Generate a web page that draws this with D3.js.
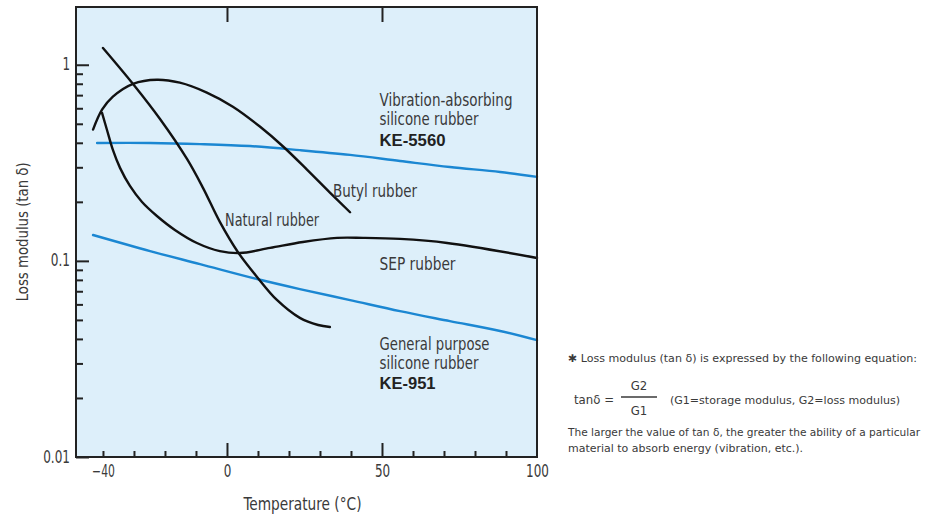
<!DOCTYPE html>
<html><head><meta charset="utf-8">
<script src="https://cdn.jsdelivr.net/npm/d3@7/dist/d3.min.js"></script>
<style>
html,body{margin:0;padding:0;background:#fff;}
svg{display:block;}
.narrow{font-family:'Liberation Sans Narrow','Arial Narrow','DejaVu Sans Condensed',sans-serif;}
.boldf{font-family:'Liberation Sans',Arial,sans-serif;font-weight:bold;}
</style></head>
<body>
<svg id="chart" width="939" height="520"></svg>
<script>
// ---- data ----
const xTickLabels = [-40, 0, 50, 100];
const xMinorTicks = [-40, -30, -20, -10, 10, 20, 30, 40, 60, 70, 80, 90];
const xMajorTicks = [0, 50];
const yTickLabels = [0.01, 0.1, 1];
const yMinorTicks = [0.02,0.03,0.04,0.05,0.06,0.07,0.08,0.09,0.2,0.3,0.4,0.5,0.6,0.7,0.8,0.9];

const tempKE5560 = [-41.9, -24.8, -8.7, 7.4, 23.5, 39.7, 55.8, 71.9, 88.1, 100];
const valKE5560  = [0.399, 0.399, 0.394, 0.385, 0.367, 0.347, 0.323, 0.301, 0.284, 0.268];

const tempKE951 = [-43.2, -24.8, -8.7, 9.7, 23.5, 39.7, 55.8, 71.9, 88.1, 100];
const valKE951  = [0.1355, 0.1122, 0.0963, 0.0808, 0.0718, 0.0631, 0.0554, 0.0493, 0.0439, 0.0394];

const tempButyl = [-43.2, -40.3, -36.8, -30.3, -22.6, -15.2, -6.5, 1.9, 10.6, 18.1, 25.8, 33.2, 39.7];
const valButyl  = [0.467, 0.590, 0.688, 0.80, 0.839, 0.81, 0.721, 0.611, 0.484, 0.383, 0.292, 0.223, 0.177];

const tempNatural = [-40, -30.3, -21.6, -12.9, -7.7, -2.3, 3.5, 9.7, 16.1, 23.5, 29.4, 33.2];
const valNatural  = [1.218, 0.798, 0.529, 0.331, 0.235, 0.158, 0.111, 0.0828, 0.0632, 0.0512, 0.0471, 0.046];

const tempSEP = [-40.3, -38.7, -36.8, -34.5, -31.3, -27.4, -22.6, -16.8, -9.7, -2.3, 4.2, 13.9, 24.5, 35.5, 43.9, 55.8, 71, 100];
const valSEP  = [0.568, 0.465, 0.368, 0.298, 0.241, 0.1996, 0.1694, 0.1438, 0.1234, 0.1122, 0.1096, 0.1164, 0.1248, 0.131, 0.131, 0.1294, 0.1234, 0.1035];

const seriesNames = ["KE-5560", "KE-951", "Butyl rubber", "Natural rubber", "SEP rubber"];

// ---- chart ----
const svg = d3.select("#chart");
const x = d3.scaleLinear().domain([-48.7, 100]).range([76, 537]);
const y = d3.scaleLog().domain([0.01, 1.97]).range([457, 7]);
const [x0, x1] = x.range();
const [yb, yt] = y.range();

const BLUE = "#1b87d2", BLACK = "#111", TXT = "#3a3a3a";

svg.append("rect").attr("x", x0).attr("y", yt).attr("width", x1 - x0).attr("height", yb - yt)
  .attr("fill", "#ddeffa");

const zip = (a, b) => a.map((t, i) => [t, b[i]]);
const series = [
  {name: seriesNames[0], data: zip(tempKE5560, valKE5560), color: BLUE},
  {name: seriesNames[1], data: zip(tempKE951, valKE951), color: BLUE},
  {name: seriesNames[2], data: zip(tempButyl, valButyl), color: BLACK},
  {name: seriesNames[3], data: zip(tempNatural, valNatural), color: BLACK},
  {name: seriesNames[4], data: zip(tempSEP, valSEP), color: BLACK}
];
const line = d3.line().x(d => x(d[0])).y(d => y(d[1])).curve(d3.curveCatmullRom.alpha(0.5));
svg.append("g").selectAll("path").data(series).join("path")
  .attr("d", d => line(d.data)).attr("fill", "none")
  .attr("stroke", d => d.color).attr("stroke-width", 2.4).attr("stroke-linecap", "round");

// axes
function styleAxis(g) {
  g.select(".domain").remove();
  g.selectAll(".tick line").attr("stroke", "#222").attr("stroke-width", 2);
}
const labelWidth = s => Array.from(s).reduce((a, c) => a + (c === "." ? 4 : c === "-" ? 6 : 7.6), 0);
svg.append("g").attr("transform", `translate(0,${yb})`)
  .call(d3.axisBottom(x).tickValues(xMinorTicks).tickSize(-6).tickFormat(""))
  .call(styleAxis);
svg.append("g").attr("transform", `translate(0,${yb})`)
  .call(d3.axisBottom(x).tickValues(xMajorTicks).tickSize(-14).tickFormat(""))
  .call(styleAxis);
svg.append("g").attr("transform", `translate(0,${yt})`)
  .call(d3.axisTop(x).tickValues(xMajorTicks).tickSize(-15).tickFormat(""))
  .call(styleAxis);
const xl = svg.append("g").attr("transform", `translate(0,${yb})`)
  .call(d3.axisBottom(x).tickValues(xTickLabels).tickSize(0).tickPadding(8).tickFormat(d3.format("d")))
  .call(styleAxis);
xl.selectAll("text").attr("class", "narrow").attr("font-size", 17).attr("fill", TXT).attr("font-family", null)
  .attr("textLength", function() { return labelWidth(this.textContent); }).attr("lengthAdjust", "spacingAndGlyphs");

svg.append("g").attr("transform", `translate(${x0},0)`)
  .call(d3.axisLeft(y).tickValues(yMinorTicks).tickSize(-7).tickFormat(""))
  .call(styleAxis);
const yl = svg.append("g").attr("transform", `translate(${x0},0)`)
  .call(d3.axisLeft(y).tickValues(yTickLabels).tickSize(-13).tickFormat(d => String(d)))
  .call(styleAxis);
yl.selectAll("text").attr("class", "narrow").attr("font-size", 17).attr("fill", TXT).attr("font-family", null)
  .attr("x", -6).attr("dy", "0.3em")
  .attr("textLength", function() { return labelWidth(this.textContent); }).attr("lengthAdjust", "spacingAndGlyphs");

// frame
svg.append("rect").attr("x", x0).attr("y", yt).attr("width", x1 - x0).attr("height", yb - yt)
  .attr("fill", "none").attr("stroke", "#222").attr("stroke-width", 2);

// axis titles
svg.append("text").attr("class", "narrow").attr("x", (x(0) + x(50)) / 2 - 2).attr("y", 510)
  .attr("text-anchor", "middle").attr("font-size", 17).attr("fill", TXT)
  .attr("textLength", 118).attr("lengthAdjust", "spacingAndGlyphs").text("Temperature (°C)");
svg.append("text").attr("class", "narrow")
  .attr("transform", `translate(28,${y(0.2) + 30}) rotate(-90)`)
  .attr("text-anchor", "middle").attr("font-size", 16).attr("fill", TXT)
  .attr("textLength", 139).attr("lengthAdjust", "spacingAndGlyphs").text("Loss modulus (tan δ)");

// series annotations (placed in data coordinates)
function note(t, v, str, w, bold) {
  svg.append("text").attr("class", bold ? "boldf" : "narrow")
    .attr("x", x(t)).attr("y", y(v)).attr("font-size", bold ? 16 : 17).attr("fill", bold ? "#222" : TXT)
    .attr("textLength", w).attr("lengthAdjust", "spacingAndGlyphs").text(str);
}
note(49.2, 0.614, "Vibration-absorbing", 133, false);
note(49.2, 0.492, "silicone rubber", 99, false);
note(49.2, 0.384, "KE-5560", 66, true);
note(34.2, 0.211, "Butyl rubber", 84, false);
note(-0.6, 0.150, "Natural rubber", 94, false);
note(49.2, 0.0898, "SEP rubber", 76, false);
note(49.2, 0.0351, "General purpose", 110, false);
note(49.2, 0.0282, "silicone rubber", 99, false);
note(49.2, 0.0222, "KE-951", 56, true);

// explanatory note on the right
const nt = svg.append("g").attr("class", "narrow").attr("fill", TXT);
nt.append("text").attr("x", 568).attr("y", 362).attr("font-size", 10.5)
  .attr("textLength", 349).attr("lengthAdjust", "spacingAndGlyphs")
  .text("✱ Loss modulus (tan δ) is expressed by the following equation:");
nt.append("text").attr("x", 574).attr("y", 404).attr("font-size", 13)
  .attr("textLength", 40).attr("lengthAdjust", "spacingAndGlyphs").text("tanδ =");
nt.append("text").attr("x", 639).attr("y", 390).attr("font-size", 13).attr("text-anchor", "middle").text("G2");
nt.append("text").attr("x", 639).attr("y", 415).attr("font-size", 13).attr("text-anchor", "middle").text("G1");
nt.append("line").attr("x1", 621).attr("x2", 657).attr("y1", 397).attr("y2", 397)
  .attr("stroke", TXT).attr("stroke-width", 1.5);
nt.append("text").attr("x", 670).attr("y", 404).attr("font-size", 10.5)
  .attr("textLength", 230).attr("lengthAdjust", "spacingAndGlyphs")
  .text("(G1=storage modulus, G2=loss modulus)");
nt.append("text").attr("x", 568).attr("y", 436).attr("font-size", 10.5)
  .attr("textLength", 352).attr("lengthAdjust", "spacingAndGlyphs")
  .text("The larger the value of tan δ, the greater the ability of a particular");
nt.append("text").attr("x", 568).attr("y", 452).attr("font-size", 10.5)
  .attr("textLength", 235).attr("lengthAdjust", "spacingAndGlyphs")
  .text("material to absorb energy (vibration, etc.).");
</script>
</body></html>
